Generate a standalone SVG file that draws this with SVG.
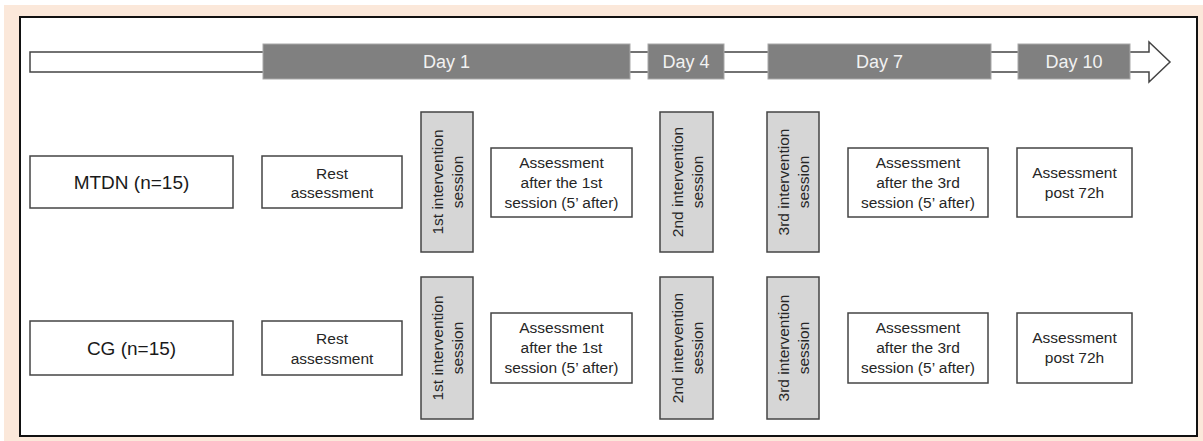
<svg xmlns="http://www.w3.org/2000/svg" width="1203" height="441" viewBox="0 0 1203 441">
<style>
.box{fill:#fff;stroke:#444;stroke-width:1.5}
.int{fill:#d6d6d6;stroke:#444;stroke-width:1.5}
.day{fill:#808080;stroke:#a8a8a8;stroke-width:1}
.dt{font-family:"Liberation Sans",Arial,sans-serif;font-size:18px;fill:#f2f2f2;text-anchor:middle}
.t{font-family:"Liberation Sans",Arial,sans-serif;font-size:15.5px;fill:#262626;text-anchor:middle}
.g{font-family:"Liberation Sans",Arial,sans-serif;font-size:19px;fill:#1a1a1a;text-anchor:middle}
</style>
<rect x="0" y="0" width="1203" height="441" fill="#fff"/>
<rect x="4" y="5" width="1199" height="436" fill="#fbe8da"/>
<rect x="20" y="17" width="1177" height="419" fill="#fff" stroke="#111" stroke-width="2"/>
<g id="connectors">
<path d="M30,52 H1149 V42 L1170,62 L1149,82 V72 H30 Z" fill="#fff" stroke="#444" stroke-width="1.5" stroke-linejoin="miter"/>
</g>
<g id="day1"><rect class="day" x="263" y="44" width="367" height="35"/><text class="dt" x="446.5" y="68">Day 1</text></g>
<g id="day4"><rect class="day" x="648" y="44" width="76" height="35"/><text class="dt" x="686" y="68">Day 4</text></g>
<g id="day7"><rect class="day" x="768" y="44" width="223" height="35"/><text class="dt" x="879.5" y="68">Day 7</text></g>
<g id="day10"><rect class="day" x="1018" y="44" width="112" height="35"/><text class="dt" x="1074" y="68">Day 10</text></g>

<g id="mtdn"><rect class="box" x="30" y="156" width="203" height="52"/><text class="g" x="131.5" y="189">MTDN (n=15)</text></g>
<g id="rest1"><rect class="box" x="262" y="156" width="140" height="52"/><text class="t" x="332" y="179">Rest</text><text class="t" x="332" y="198">assessment</text></g>
<g id="int1a"><rect class="int" x="421" y="112" width="52" height="140"/><text class="t" transform="translate(447,182) rotate(-90)"><tspan x="0" y="-4">1st intervention</tspan><tspan x="0" y="16">session</tspan></text></g>
<g id="ass1a"><rect class="box" x="491" y="148" width="141" height="69"/><text class="t" x="561.5" y="168">Assessment</text><text class="t" x="561.5" y="188">after the 1st</text><text class="t" x="561.5" y="208">session (5’ after)</text></g>
<g id="int2a"><rect class="int" x="660" y="112" width="53" height="140"/><text class="t" transform="translate(686.5,182) rotate(-90)"><tspan x="0" y="-4">2nd intervention</tspan><tspan x="0" y="16">session</tspan></text></g>
<g id="int3a"><rect class="int" x="767" y="112" width="52" height="140"/><text class="t" transform="translate(793,182) rotate(-90)"><tspan x="0" y="-4">3rd intervention</tspan><tspan x="0" y="16">session</tspan></text></g>
<g id="ass3a"><rect class="box" x="848" y="148" width="140" height="69"/><text class="t" x="918" y="168">Assessment</text><text class="t" x="918" y="188">after the 3rd</text><text class="t" x="918" y="208">session (5’ after)</text></g>
<g id="post1"><rect class="box" x="1017" y="148" width="115" height="69"/><text class="t" x="1074.5" y="178">Assessment</text><text class="t" x="1074.5" y="198">post 72h</text></g>

<g id="cg"><rect class="box" x="30" y="321" width="203" height="54"/><text class="g" x="131.5" y="355">CG (n=15)</text></g>
<g id="rest2"><rect class="box" x="262" y="321" width="140" height="54"/><text class="t" x="332" y="344">Rest</text><text class="t" x="332" y="364">assessment</text></g>
<g id="int1b"><rect class="int" x="421" y="277" width="52" height="142"/><text class="t" transform="translate(447,348) rotate(-90)"><tspan x="0" y="-4">1st intervention</tspan><tspan x="0" y="16">session</tspan></text></g>
<g id="ass1b"><rect class="box" x="491" y="313" width="141" height="70"/><text class="t" x="561.5" y="333">Assessment</text><text class="t" x="561.5" y="353">after the 1st</text><text class="t" x="561.5" y="373">session (5’ after)</text></g>
<g id="int2b"><rect class="int" x="660" y="277" width="53" height="142"/><text class="t" transform="translate(686.5,348) rotate(-90)"><tspan x="0" y="-4">2nd intervention</tspan><tspan x="0" y="16">session</tspan></text></g>
<g id="int3b"><rect class="int" x="767" y="277" width="52" height="142"/><text class="t" transform="translate(793,348) rotate(-90)"><tspan x="0" y="-4">3rd intervention</tspan><tspan x="0" y="16">session</tspan></text></g>
<g id="ass3b"><rect class="box" x="848" y="313" width="140" height="70"/><text class="t" x="918" y="333">Assessment</text><text class="t" x="918" y="353">after the 3rd</text><text class="t" x="918" y="373">session (5’ after)</text></g>
<g id="post2"><rect class="box" x="1017" y="313" width="115" height="70"/><text class="t" x="1074.5" y="343">Assessment</text><text class="t" x="1074.5" y="363">post 72h</text></g>
</svg>
